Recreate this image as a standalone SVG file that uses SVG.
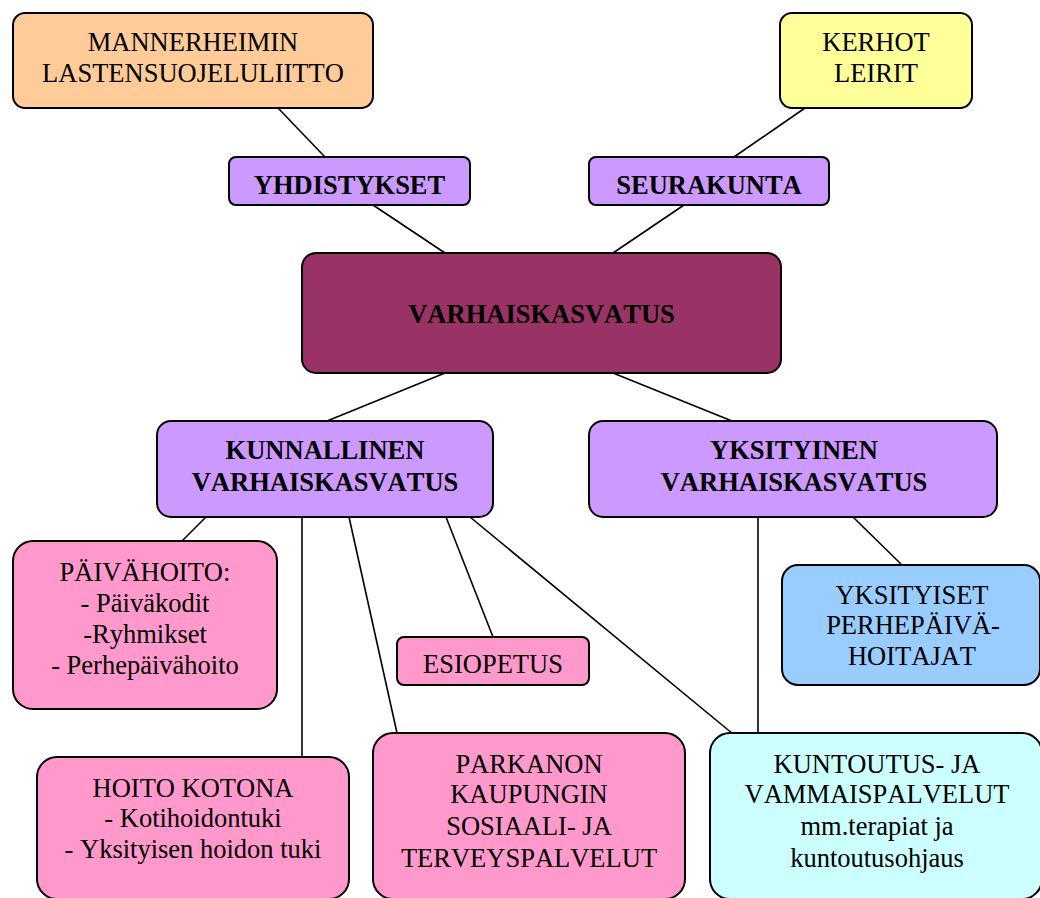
<svg xmlns="http://www.w3.org/2000/svg" width="1040" height="898" viewBox="0 0 1040 898">
<style>
.b{stroke:#000;stroke-width:2}
.t{font-family:"Liberation Serif","Times New Roman",serif;font-size:26.5px;fill:#000;text-anchor:middle;font-kerning:none}
.bd{font-weight:bold}
.c line{stroke:#000;stroke-width:1.6}
</style>
<rect width="1040" height="898" fill="#fff"/>
<g class="c" id="connectors">
<line x1="278" y1="108" x2="325" y2="157"/>
<line x1="373" y1="205" x2="445" y2="253"/>
<line x1="805" y1="108" x2="734" y2="157"/>
<line x1="684" y1="205" x2="613" y2="253"/>
<line x1="445" y1="373" x2="327" y2="421"/>
<line x1="613" y1="373" x2="732" y2="421"/>
<line x1="206" y1="517" x2="182" y2="541"/>
<line x1="302" y1="517" x2="302" y2="757"/>
<line x1="349" y1="517" x2="397" y2="733"/>
<line x1="446" y1="517" x2="493" y2="637"/>
<line x1="470" y1="517" x2="733" y2="734"/>
<line x1="853" y1="517" x2="902" y2="565"/>
<line x1="758" y1="517" x2="758" y2="734"/>
</g>
<g id="n-mannerheim">
<rect class="b" x="13" y="13" width="360" height="95" rx="12" fill="#FFCC99"/>
<text class="t" x="193" y="51">MANNERHEIMIN</text>
<text class="t" x="193" y="82">LASTENSUOJELULIITTO</text>
</g>
<g id="n-kerhot">
<rect class="b" x="780" y="13" width="192" height="95" rx="12" fill="#FFFF99"/>
<text class="t" x="876" y="51">KERHOT</text>
<text class="t" x="876" y="82">LEIRIT</text>
</g>
<g id="n-yhdistykset">
<rect class="b" x="229" y="157" width="241" height="48" rx="7" fill="#CC99FF"/>
<text class="t bd" x="349.5" y="194">YHDISTYKSET</text>
</g>
<g id="n-seurakunta">
<rect class="b" x="589" y="157" width="240" height="48" rx="7" fill="#CC99FF"/>
<text class="t bd" x="709" y="194">SEURAKUNTA</text>
</g>
<g id="n-varhaiskasvatus">
<rect class="b" x="302" y="253" width="479" height="120" rx="14" fill="#993366"/>
<text class="t bd" x="541.5" y="323">VARHAISKASVATUS</text>
</g>
<g id="n-kunnallinen">
<rect class="b" x="157" y="421" width="336" height="96" rx="14" fill="#CC99FF"/>
<text class="t bd" x="325" y="459">KUNNALLINEN</text>
<text class="t bd" x="325" y="491">VARHAISKASVATUS</text>
</g>
<g id="n-yksityinen">
<rect class="b" x="589" y="421" width="408" height="96" rx="14" fill="#CC99FF"/>
<text class="t bd" x="794" y="459">YKSITYINEN</text>
<text class="t bd" x="794" y="491">VARHAISKASVATUS</text>
</g>
<g id="n-paivahoito">
<rect class="b" x="13" y="541" width="264" height="168" rx="20" fill="#FF99CC"/>
<text class="t" x="145" y="581">PÄIVÄHOITO:</text>
<text class="t" x="145" y="612">- Päiväkodit</text>
<text class="t" x="145" y="643">-Ryhmikset</text>
<text class="t" x="145" y="674">- Perhepäivähoito</text>
</g>
<g id="n-esiopetus">
<rect class="b" x="397" y="637" width="192" height="48" rx="7" fill="#FF99CC"/>
<text class="t" x="493" y="673">ESIOPETUS</text>
</g>
<g id="n-yksityiset">
<rect class="b" x="782" y="565" width="258" height="120" rx="16" fill="#99CCFF"/>
<text class="t" x="912" y="604">YKSITYISET</text>
<text class="t" x="913" y="634">PERHEPÄIVÄ-</text>
<text class="t" x="912" y="665">HOITAJAT</text>
</g>
<g id="n-hoitokotona">
<rect class="b" x="37" y="757" width="312" height="142" rx="20" fill="#FF99CC"/>
<text class="t" x="193" y="797">HOITO KOTONA</text>
<text class="t" x="193" y="827">- Kotihoidontuki</text>
<text class="t" x="193" y="858">- Yksityisen hoidon tuki</text>
</g>
<g id="n-parkano">
<rect class="b" x="373" y="733" width="312" height="166" rx="20" fill="#FF99CC"/>
<text class="t" x="529" y="773">PARKANON</text>
<text class="t" x="529" y="803">KAUPUNGIN</text>
<text class="t" x="529" y="835">SOSIAALI- JA</text>
<text class="t" x="529" y="867">TERVEYSPALVELUT</text>
</g>
<g id="n-kuntoutus">
<rect class="b" x="710" y="733" width="332" height="166" rx="20" fill="#CCFFFF"/>
<text class="t" x="877" y="773">KUNTOUTUS- JA</text>
<text class="t" x="877" y="803">VAMMAISPALVELUT</text>
<text class="t" x="877" y="835">mm.terapiat ja</text>
<text class="t" x="877" y="867">kuntoutusohjaus</text>
</g>
</svg>
